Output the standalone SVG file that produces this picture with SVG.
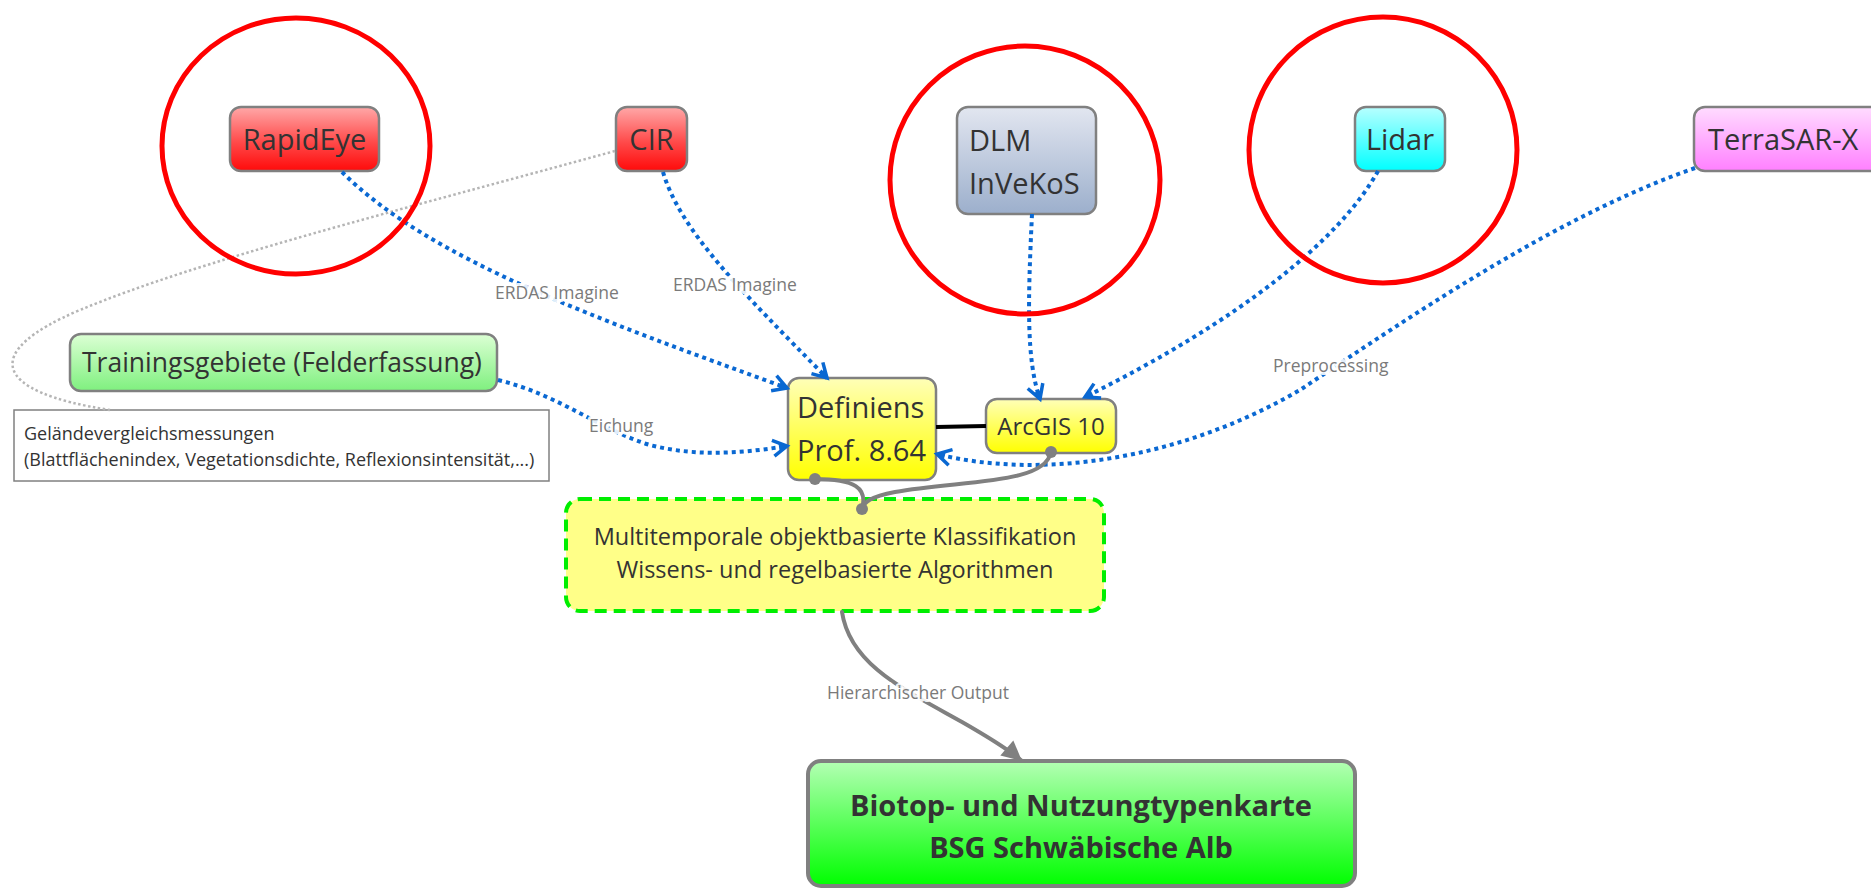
<svg xmlns="http://www.w3.org/2000/svg" width="1871" height="889" viewBox="0 0 1871 889">
<style>
  text { font-family: "Open Sans", "Noto Sans", "DejaVu Sans", sans-serif; fill: #333333; }
  .t29 { font-size: 29px; }
  .box { stroke: #808080; stroke-width: 2.5; }
  .blue { fill: none; stroke: #0a68d2; stroke-width: 4; stroke-dasharray: 4 4; }
  .gray-dot { fill: none; stroke: #b5b5b5; stroke-width: 2.5; stroke-dasharray: 2.5 2.5; }
  .gray { fill: none; stroke: #808080; stroke-width: 4; stroke-linecap: round; }
  .lbl { font-size: 17.5px; fill: #7a7a7a; stroke: #ffffff; stroke-width: 6; stroke-opacity: 0.9; paint-order: stroke; stroke-linejoin: round; }
  .ring { fill: none; stroke: #ff0000; stroke-width: 5; }
</style>
<defs>
  <linearGradient id="gRed" x1="0" y1="0" x2="0" y2="1"><stop offset="0" stop-color="#ffa8a8"/><stop offset="0.55" stop-color="#ff4a4a"/><stop offset="1" stop-color="#ff0a0a"/></linearGradient>
  <linearGradient id="gBlue" x1="0" y1="0" x2="0" y2="1"><stop offset="0" stop-color="#e2e6f0"/><stop offset="1" stop-color="#9cafcc"/></linearGradient>
  <linearGradient id="gCyan" x1="0" y1="0" x2="0" y2="1"><stop offset="0" stop-color="#b8ffff"/><stop offset="1" stop-color="#00ffff"/></linearGradient>
  <linearGradient id="gPink" x1="0" y1="0" x2="0" y2="1"><stop offset="0" stop-color="#ffdcff"/><stop offset="1" stop-color="#ff80ff"/></linearGradient>
  <linearGradient id="gLGreen" x1="0" y1="0" x2="0" y2="1"><stop offset="0" stop-color="#dcffd4"/><stop offset="1" stop-color="#7ff07f"/></linearGradient>
  <linearGradient id="gYellow" x1="0" y1="0" x2="0" y2="1"><stop offset="0" stop-color="#ffffb8"/><stop offset="1" stop-color="#ffff00"/></linearGradient>
  <linearGradient id="gGreen" x1="0" y1="0" x2="0" y2="1"><stop offset="0" stop-color="#b4ffb4"/><stop offset="1" stop-color="#00ff00"/></linearGradient>
  <marker id="chev" markerUnits="userSpaceOnUse" markerWidth="22" markerHeight="22" refX="17" refY="10" orient="auto" overflow="visible">
    <path d="M3,2 L17,10 L3,18" fill="none" stroke="#0a68d2" stroke-width="3.5" stroke-linejoin="miter"/>
    <path d="M9,6.5 L17,10 L9,13.5 Z" fill="#0a68d2"/>
  </marker>
  <marker id="tri" markerUnits="userSpaceOnUse" markerWidth="26" markerHeight="26" refX="20" refY="10" orient="auto" overflow="visible">
    <path d="M0,0 L20,10 L0,20 Z" fill="#808080"/>
  </marker>
</defs>

<g id="rapideye">
  <rect class="box" x="230" y="107" width="149" height="64" rx="11" fill="url(#gRed)"/>
  <text class="t29" x="304.5" y="150" text-anchor="middle">RapidEye</text>
</g>
<g id="cir">
  <rect class="box" x="616" y="107" width="71" height="64" rx="11" fill="url(#gRed)"/>
  <text class="t29" x="651.5" y="150" text-anchor="middle">CIR</text>
</g>
<g id="dlm">
  <rect class="box" x="957" y="107" width="139" height="107" rx="11" fill="url(#gBlue)"/>
  <text class="t29" x="969" y="151">DLM</text>
  <text class="t29" x="969" y="194">InVeKoS</text>
</g>
<g id="lidar">
  <rect class="box" x="1355" y="107" width="90" height="64" rx="11" fill="url(#gCyan)"/>
  <text class="t29" x="1400" y="150" text-anchor="middle">Lidar</text>
</g>
<g id="terrasar">
  <rect class="box" x="1694" y="107" width="190" height="64" rx="11" fill="url(#gPink)"/>
  <text class="t29" x="1708" y="150">TerraSAR-X</text>
</g>
<g id="trainings">
  <rect class="box" x="70" y="334" width="427" height="57" rx="11" fill="url(#gLGreen)"/>
  <text x="82" y="372" font-size="26.5">Trainingsgebiete (Felderfassung)</text>
</g>
<g id="note">
  <rect x="14" y="410" width="535" height="71" fill="#ffffff" stroke="#808080" stroke-width="1.5"/>
  <text x="24" y="440" font-size="18">Geländevergleichsmessungen</text>
  <text x="24" y="466" font-size="18">(Blattflächenindex, Vegetationsdichte, Reflexionsintensität,...)</text>
</g>
<g id="definiens">
  <rect class="box" x="788" y="378" width="148" height="102" rx="11" fill="url(#gYellow)"/>
  <text class="t29" x="797" y="418">Definiens</text>
  <text class="t29" x="797" y="461">Prof. 8.64</text>
</g>
<g id="arcgis">
  <rect class="box" x="986" y="399" width="130" height="54" rx="11" fill="url(#gYellow)"/>
  <text x="1051" y="435" font-size="24" text-anchor="middle">ArcGIS 10</text>
</g>
<g id="multitemporal">
  <rect x="566" y="499" width="538" height="112" rx="14" fill="#ffff88" stroke="#00ee00" stroke-width="4" stroke-dasharray="12 7"/>
  <text x="835" y="545" font-size="23.5" text-anchor="middle">Multitemporale objektbasierte Klassifikation</text>
  <text x="835" y="578" font-size="23.5" text-anchor="middle">Wissens- und regelbasierte Algorithmen</text>
</g>
<g id="biotop">
  <rect x="808" y="761" width="547" height="125" rx="13" fill="url(#gGreen)" stroke="#808080" stroke-width="4"/>
  <text x="1081" y="816" font-size="29" font-weight="bold" text-anchor="middle">Biotop- und Nutzungtypenkarte</text>
  <text x="1081" y="858" font-size="29" font-weight="bold" text-anchor="middle">BSG Schwäbische Alb</text>
</g>

<g id="connectors">
  <path class="gray-dot" d="M615,151 C400,210 200,260 80,310 C-20,352 -8,392 110,410"/>
  <path class="blue" d="M342,172 C430,260 600,320 787,388" marker-end="url(#chev)"/>
  <path class="blue" d="M663,172 C680,230 740,290 827,378" marker-end="url(#chev)"/>
  <path class="blue" d="M498,380 C560,395 600,430 650,445 C700,458 750,452 787,446" marker-end="url(#chev)"/>
  <path class="blue" d="M1032,214 C1028,300 1026,360 1040,399" marker-end="url(#chev)"/>
  <path class="blue" d="M1378,171 C1340,240 1240,320 1085,397" marker-end="url(#chev)"/>
  <path class="blue" d="M1695,168 C1560,215 1420,310 1300,390 C1180,460 1040,480 937,454" marker-end="url(#chev)"/>
  <path d="M936,427 L986,426" stroke="#000000" stroke-width="4"/>
  <path class="gray" d="M815,479 C855,479 868,488 862,509"/>
  <path class="gray" d="M1051,452 C1045,485 960,480 895,492 C870,497 864,502 862,509"/>
  <circle cx="815" cy="479" r="6" fill="#808080"/>
  <circle cx="1051" cy="452" r="6" fill="#808080"/>
  <circle cx="862" cy="509" r="6" fill="#808080"/>
  <path class="gray" d="M842,612 C850,665 905,690 962,722 C990,738 1008,749 1022,761" marker-end="url(#tri)"/>
  <text class="lbl" x="495" y="299">ERDAS Imagine</text>
  <text class="lbl" x="673" y="291">ERDAS Imagine</text>
  <text class="lbl" x="589" y="432">Eichung</text>
  <text class="lbl" x="1273" y="372">Preprocessing</text>
  <text class="lbl" x="827" y="699">Hierarchischer Output</text>
</g>

<g id="highlights">
  <ellipse class="ring" cx="296" cy="146" rx="134" ry="128"/>
  <ellipse class="ring" cx="1025" cy="180" rx="135" ry="134"/>
  <ellipse class="ring" cx="1383" cy="150" rx="134" ry="133"/>
</g>
</svg>
